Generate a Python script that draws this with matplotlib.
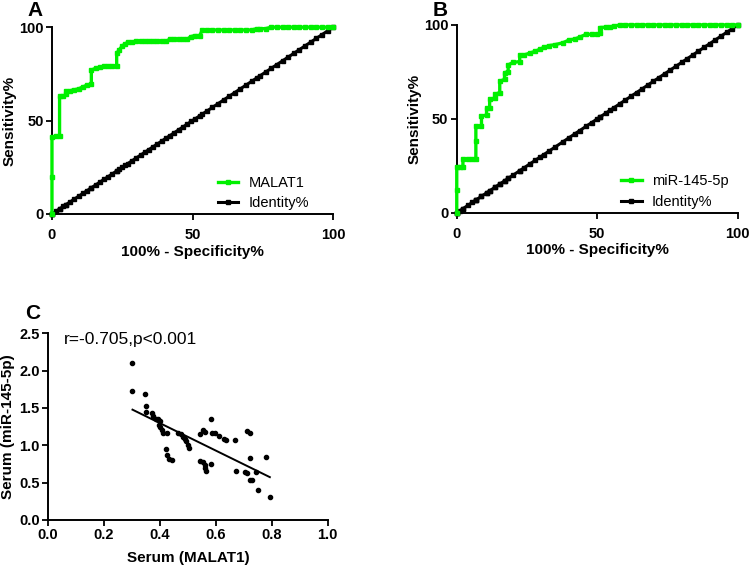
import numpy as np
import matplotlib
matplotlib.use("Agg")
import matplotlib.pyplot as plt

plt.rcParams['font.family'] = ['Liberation Sans', 'DejaVu Sans']
plt.rcParams['font.weight'] = 'bold'

# ROC curve A (MALAT1): 100% - specificity, sensitivity
fpr_a = [0, 0, 0, 1.4, 2.7, 2.7, 4, 5, 5, 6.5, 8, 9.5, 11, 12.5, 14, 14, 15.5, 17, 18.5,
         20, 21.5, 23, 23, 24, 25, 26, 27, 28.5, 30, 31.5, 33, 34.5, 36, 37.5, 39, 40.5,
         42, 43.5, 45, 46.5, 48, 49.5, 51, 52.5, 53.5, 55, 57, 59, 61, 63, 65, 67, 69, 71,
         72.8, 74, 76, 78, 80, 82, 84, 86, 88, 90, 92, 94, 96, 98, 100]
tpr_a = [0, 20, 41, 41.5, 42, 63, 63, 64, 66, 66, 66.5, 67, 68, 69, 69.5, 77, 78, 78.5, 79,
         79, 79, 79, 86, 88, 90, 91, 92, 92, 92.5, 92.5, 92.5, 92.5, 92.5, 92.5, 92.5, 92.5,
         93.5, 93.5, 93.5, 93.5, 93.5, 95, 95.5, 95.5, 98.5, 98.5, 98.5, 98.5, 98.5, 98.5,
         98.5, 98.5, 98.5, 98.5, 99.2, 99.2, 99.2, 100, 100, 100, 100, 100, 100, 100, 100,
         100, 100, 100, 100]

# ROC curve B (miR-145-5p)
fpr_b = [0, 0, 0, 1.2, 2.2, 2.2, 4, 5.5, 6.8, 6.8, 6.8, 8.8, 8.8, 10.6, 10.6, 11.7, 11.7,
         13.5, 13.5, 15.3, 15.3, 17, 17, 18.3, 18.3, 20, 22.4, 22.4, 24, 26, 28, 29.5, 31,
         33, 35, 37.8, 40, 42, 43.8, 46, 48, 50, 51, 51, 53, 54.5, 56, 58, 60, 62, 64, 66,
         68, 70, 72, 74, 76, 78, 80, 82, 84, 86, 88, 90, 92, 94, 96, 98, 100]
tpr_b = [0, 12, 24.5, 24.5, 24.5, 28.5, 28.5, 28.5, 28.5, 38, 46, 46, 51.5, 52, 55.7, 56,
         60.5, 61, 63, 64, 70, 71, 74.6, 75, 78.7, 80, 80.5, 84, 84, 85, 86, 87, 88, 89,
         89.5, 90.5, 92, 92.5, 93.5, 95, 95, 95, 95.5, 98.6, 98.8, 99, 99.3, 100, 100, 100,
         100, 100, 100, 100, 100, 100, 100, 100, 100, 100, 100, 100, 100, 100, 100, 100,
         100, 100, 100]

# Correlation (panel C)
malat1 = [0.302, 0.302, 0.346, 0.35, 0.352, 0.37, 0.376, 0.386, 0.394, 0.40, 0.396, 0.402,
          0.407, 0.412, 0.424, 0.421, 0.426, 0.431, 0.442, 0.466, 0.474, 0.481, 0.489,
          0.495, 0.501, 0.505, 0.543, 0.555, 0.561, 0.584, 0.588, 0.596, 0.612, 0.629,
          0.638, 0.669, 0.543, 0.553, 0.561, 0.561, 0.564, 0.581, 0.71, 0.721, 0.721,
          0.781, 0.671, 0.704, 0.712, 0.743, 0.721, 0.73, 0.751, 0.793]
mir145 = [2.10, 1.73, 1.69, 1.53, 1.45, 1.43, 1.39, 1.35, 1.35, 1.33, 1.27, 1.24, 1.20,
          1.17, 1.16, 0.95, 0.87, 0.81, 0.80, 1.17, 1.15, 1.11, 1.09, 1.06, 1.00, 0.97,
          1.15, 1.20, 1.18, 1.35, 1.17, 1.16, 1.12, 1.08, 1.07, 1.07, 0.79, 0.78, 0.74,
          0.69, 0.65, 0.745, 1.19, 1.17, 0.83, 0.84, 0.65, 0.64, 0.63, 0.64, 0.53, 0.53,
          0.40, 0.31]

green = '#00f000'
fig = plt.figure(figsize=(7.5, 5.66), dpi=100)


def style_axes(ax, xpad):
    for s in ['top', 'right']:
        ax.spines[s].set_visible(False)
    for s in ['left', 'bottom']:
        ax.spines[s].set_linewidth(1.4)
    ax.tick_params(direction='out', length=4, width=1.3, labelsize=10.5)
    ax.tick_params(axis='x', pad=xpad)
    ax.tick_params(axis='y', pad=2)


def roc_panel(rect, fpr, tpr, name, leg_x):
    ax = fig.add_axes(rect)
    ax.plot(fpr, tpr, color=green, lw=2.4, marker='s', ms=2.8, label=name, clip_on=False, zorder=3)
    ax.plot(fpr, fpr, color='black', lw=2.2, marker='s', ms=2.4, label='Identity%', clip_on=False)
    ax.set_xlim(0, 100)
    ax.set_ylim(0, 100)
    ax.set_xticks([0, 50, 100])
    ax.set_yticks([0, 50, 100])
    style_axes(ax, 6)
    ax.set_xlabel('100% - Specificity%', fontsize=11, fontweight='bold', labelpad=2)
    ax.set_ylabel('Sensitivity%', fontsize=11, fontweight='bold', labelpad=2)
    leg = ax.legend(loc='lower left', bbox_to_anchor=(leg_x, 0.02), frameon=False,
                    fontsize=10.5, handlelength=1.4, handletextpad=0.7, borderaxespad=0,
                    borderpad=0, labelspacing=0.45)
    for t in leg.get_texts():
        t.set_fontweight('normal')
    return ax


roc_panel([0.0693, 0.622, 0.375, 0.330], fpr_a, tpr_a, 'MALAT1', 0.59)
roc_panel([0.609, 0.624, 0.3747, 0.332], fpr_b, tpr_b, 'miR-145-5p', 0.585)

axc = fig.add_axes([0.064, 0.0813, 0.373, 0.330])
axc.scatter(malat1, mir145, s=9, color='black', zorder=3)
k, b = np.polyfit(malat1, mir145, 1)
xs = np.array([min(malat1), max(malat1)])
axc.plot(xs, k * xs + b, color='black', lw=1.4)
axc.set_xlim(0, 1.0)
axc.set_ylim(0, 2.5)
axc.set_xticks(np.arange(0, 1.01, 0.2))
axc.set_yticks(np.arange(0, 2.51, 0.5))
axc.set_xticklabels(['%.1f' % v for v in np.arange(0, 1.01, 0.2)])
axc.set_yticklabels(['%.1f' % v for v in np.arange(0, 2.51, 0.5)])
style_axes(axc, 2)
axc.set_xlabel('Serum (MALAT1)', fontsize=11, fontweight='bold', labelpad=6)
axc.set_ylabel('Serum (miR-145-5p)', fontsize=11, fontweight='bold', labelpad=3)
axc.text(0.055, 2.42, 'r=-0.705,p<0.001', fontsize=12.5, fontweight='normal', va='center')

# panel letters
fig.text(27 / 750, 0.999, 'A', fontsize=15, fontweight='bold', va='top', ha='left')
fig.text(433 / 750, 0.999, 'B', fontsize=15, fontweight='bold', va='top', ha='left')
fig.text(25 / 750, 1 - 304 / 566, 'C', fontsize=15, fontweight='bold', va='top', ha='left')

fig.savefig('out.png', dpi=100)
